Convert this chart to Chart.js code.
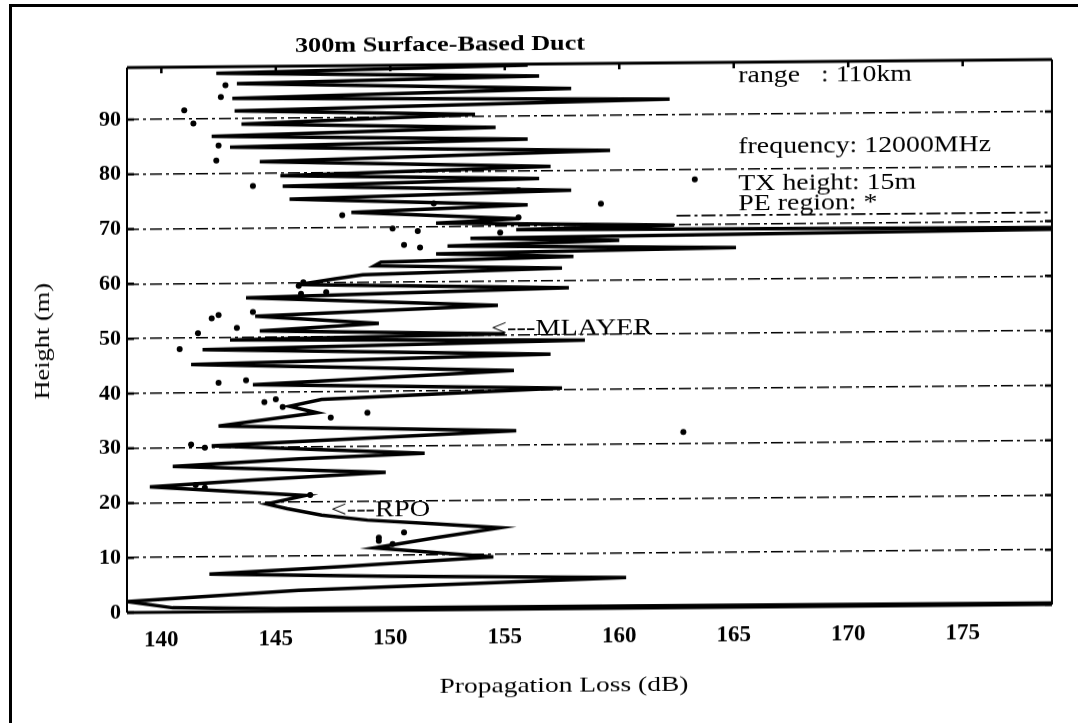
<!DOCTYPE html>
<html>
<head>
<meta charset="utf-8">
<script src="https://cdn.jsdelivr.net/npm/chart.js@4.4.0/dist/chart.umd.min.js"></script>
<style>
  html, body { margin: 0; padding: 0; background: #fff; }
  #page { position: relative; width: 1078px; height: 723px; overflow: hidden; background: #fff; }
  #frame { position: absolute; left: 9px; top: 4px; width: 2000px; height: 2000px;
           border-left: 3px solid #000; border-top: 3px solid #000; z-index: 2; }
  #wrap { position: absolute; left: 0; top: 0; width: 1078px; height: 723px;
          transform: skewY(-0.5deg); }
</style>
</head>
<body>
<div id="page">
  <div id="frame"></div>
  <div id="wrap"><canvas id="duct" width="1078" height="723"></canvas></div>
</div>
<script>
// propagation loss (dB) against height (m), bottom to top
var heightCurve = [0.2, 0.4, 0.5, 0.8, 2.0, 3.8, 5.6, 6.2, 6.9, 8.1, 9.6, 11.4, 13.2, 14.9, 15.7, 16.5, 17.5, 18.7, 19.6, 21.1,
  22.9, 24.0, 25.2, 26.6, 27.8, 28.6, 30.3, 32.6, 33.9, 36.2, 37.4, 38.6, 40.3, 41.4, 43.6, 45.2, 46.5, 47.9, 49.0, 49.6,
  50.3, 51.2, 52.4, 53.9, 55.5, 57.3, 58.6, 59.6, 60.6, 61.3, 62.2, 62.9, 63.6, 64.3, 65.0, 65.7, 66.4, 67.2, 67.8, 68.7,
  69.3, 69.9, 70.6, 71.3, 72.7, 73.8, 75.2, 76.4, 77.6, 78.6, 79.5, 80.8, 82.1, 83.6, 84.8, 85.8, 86.8, 88.0, 89.0, 90.4,
  91.4, 92.9, 93.7, 95.0, 96.4, 97.3, 98.3, 99.3, 100.2];
var lossCurve = [190, 160, 145, 140.5, 138.5, 146, 160.3, 150, 142.1, 148, 154.5, 149.3, 152, 154.8, 152, 149, 147, 145.5, 144.6, 146.3,
  139.5, 144, 149.8, 140.5, 146, 151.5, 142.2, 155.5, 142.5, 146.8, 145.6, 147.0, 157.5, 144.0, 155.4, 141.3, 157.0, 141.8, 158.5, 143.0,
  155.0, 144.3, 149.5, 144.1, 154.7, 143.7, 157.8, 146.0, 147.6, 148.8, 157.5, 149.3, 149.6, 158, 152.0, 165.1, 152.5, 160, 153.5, 186,
  155.5, 162.4, 152.0, 155.6, 148.3, 156, 145.6, 157.9, 145.3, 156.5, 145.2, 157, 144.3, 159.6, 143.0, 156, 142.2, 154.6, 143.5, 153.7,
  143.2, 162.2, 143.1, 157.9, 143.3, 156.5, 142.4, 156, 150];

// scattered markers
var dotLoss = [142.8, 142.6, 141.0, 141.4, 142.5, 142.4, 144.0, 155.6, 151.9, 147.9, 155.6, 150.1, 151.2, 154.8, 150.6, 151.3, 159.2,
  146.0, 146.2, 147.2, 146.1, 142.2, 142.5, 144.0, 141.6, 143.3, 140.8, 142.5, 143.7, 144.5, 145.0, 145.3, 147.4, 149.0, 141.3,
  141.9, 141.5, 141.9, 146.5, 150.6, 149.5, 149.5, 150.1, 162.8, 163.3];
var dotHeight = [96.1, 94.0, 91.6, 89.2, 85.1, 82.4, 77.7, 76.5, 74.2, 72.2, 71.5, 69.7, 69.2, 68.8, 66.7, 66.2, 73.9,
  59.4, 60.0, 58.2, 57.9, 53.6, 54.2, 54.7, 50.9, 51.8, 48.0, 41.8, 42.2, 38.2, 38.7, 37.3, 35.3, 36.1, 30.6,
  30.0, 23.2, 22.7, 21.2, 14.2, 13.3, 12.7, 12.1, 32.1, 78.2];

// dashed line running along the foot of the PE region note
var peLineLoss = [162.5, 179.5];
var peLineHeight = [71.6, 71.6];

var xTicks = [140, 145, 150, 155, 160, 165, 170, 175];
var yTicks = [0, 10, 20, 30, 40, 50, 60, 70, 80, 90];

var chartTitle = '300m Surface-Based Duct';
var xTitle = 'Propagation Loss (dB)';
var yTitle = 'Height (m)';
var notes = ['range   : 110km', 'frequency: 12000MHz', 'TX height: 15m', 'PE region: *'];
var marks = ['<---MLAYER', '<---RPO'];

var serif = '"Liberation Serif", "Times New Roman", serif';

function wideText(ctx, txt, x, y, align, sx) {
    ctx.save();
    ctx.translate(x, y);
    ctx.scale(sx, 1);
    ctx.textAlign = align;
    ctx.textBaseline = 'middle';
    ctx.fillText(txt, 0, 0);
    ctx.restore();
}

var overlay = {
    id: 'overlay',
    afterDraw: function(chart) {
        var ctx = chart.ctx, a = chart.chartArea;
        var xs = chart.scales.x, ys = chart.scales.y;
        ctx.save();
        ctx.strokeStyle = '#000';
        ctx.fillStyle = '#000';
        ctx.setLineDash([]);

        // plot frame
        ctx.lineWidth = 3;
        ctx.beginPath();
        ctx.moveTo(a.left, a.top); ctx.lineTo(a.right, a.top);
        ctx.moveTo(a.left, a.bottom); ctx.lineTo(a.right, a.bottom);
        ctx.stroke();
        ctx.lineWidth = 2;
        ctx.beginPath();
        ctx.moveTo(a.left, a.top); ctx.lineTo(a.left, a.bottom);
        ctx.moveTo(a.right, a.top); ctx.lineTo(a.right, a.bottom);
        ctx.stroke();

        // small inward ticks
        ctx.lineWidth = 2.5;
        ctx.beginPath();
        yTicks.forEach(function(v) {
            var y = ys.getPixelForValue(v);
            ctx.moveTo(a.left, y); ctx.lineTo(a.left + 7, y);
            ctx.moveTo(a.right, y); ctx.lineTo(a.right - 7, y);
        });
        xTicks.forEach(function(v) {
            var x = xs.getPixelForValue(v);
            ctx.moveTo(x, a.top); ctx.lineTo(x, a.top + 6);
        });
        ctx.stroke();

        // title and axis titles
        ctx.font = 'bold 21px ' + serif;
        wideText(ctx, chartTitle, 440, 45, 'center', 1.25);
        ctx.font = '22px ' + serif;
        wideText(ctx, xTitle, 564, 686, 'center', 1.25);
        ctx.save();
        ctx.translate(43, 337);
        ctx.rotate(-Math.PI / 2);
        wideText(ctx, yTitle, 0, 0, 'center', 1.2);
        ctx.restore();

        // run notes
        ctx.font = '23px ' + serif;
        var noteH = [97.0, 84.0, 77.2, 73.6];
        notes.forEach(function(t, i) {
            wideText(ctx, t, xs.getPixelForValue(165.2), ys.getPixelForValue(noteH[i]), 'left', 1.21);
        });

        // layer markers
        ctx.font = '24px ' + serif;
        wideText(ctx, marks[0], xs.getPixelForValue(154.4), ys.getPixelForValue(51.1), 'left', 1.18);
        wideText(ctx, marks[1], xs.getPixelForValue(147.4), ys.getPixelForValue(18.4), 'left', 1.18);
        ctx.restore();
    }
};

var curvePts = heightCurve.map(function(h, i) { return { x: lossCurve[i], y: h }; });
var dotPts = dotHeight.map(function(h, i) { return { x: dotLoss[i], y: h }; });
var pePts = peLineHeight.map(function(h, i) { return { x: peLineLoss[i], y: h }; });

new Chart(document.getElementById('duct'), {
    type: 'scatter',
    data: {
        datasets: [{
            label: 'loss',
            data: curvePts,
            showLine: true,
            borderColor: '#000',
            borderWidth: 3.5,
            pointRadius: 0,
            tension: 0
        }, {
            label: 'PE region',
            data: dotPts,
            showLine: false,
            pointRadius: 3,
            pointBackgroundColor: '#000',
            pointBorderColor: '#000',
            pointBorderWidth: 0
        }, {
            label: 'PE line',
            data: pePts,
            showLine: true,
            borderColor: '#000',
            borderWidth: 1.8,
            borderDash: [14, 4, 3, 4],
            pointRadius: 0
        }]
    },
    options: {
        responsive: false,
        animation: false,
        devicePixelRatio: 1,
        layout: { padding: { left: 0, top: 64, right: 26, bottom: 0 } },
        plugins: { legend: { display: false }, tooltip: { enabled: false } },
        scales: {
            x: {
                type: 'linear',
                min: 138.5,
                max: 178.9,
                afterFit: function(s) { s.height = 114; },
                afterBuildTicks: function(s) { s.ticks = xTicks.map(function(v) { return { value: v }; }); },
                grid: { display: false },
                border: { display: false },
                ticks: { color: '#000', padding: 6, maxRotation: 0, font: { family: serif, size: 23, weight: 'bold' } }
            },
            y: {
                type: 'linear',
                min: 0,
                max: 99.5,
                afterFit: function(s) { s.width = 127; },
                afterBuildTicks: function(s) { s.ticks = yTicks.map(function(v) { return { value: v }; }); },
                grid: { color: '#000', lineWidth: 1.5, drawTicks: false },
                border: { display: false, dash: [12, 4, 3, 4] },
                ticks: { color: '#000', padding: 6, font: { family: serif, size: 22, weight: 'bold' } }
            }
        }
    },
    plugins: [overlay]
});
</script>
</body>
</html>
